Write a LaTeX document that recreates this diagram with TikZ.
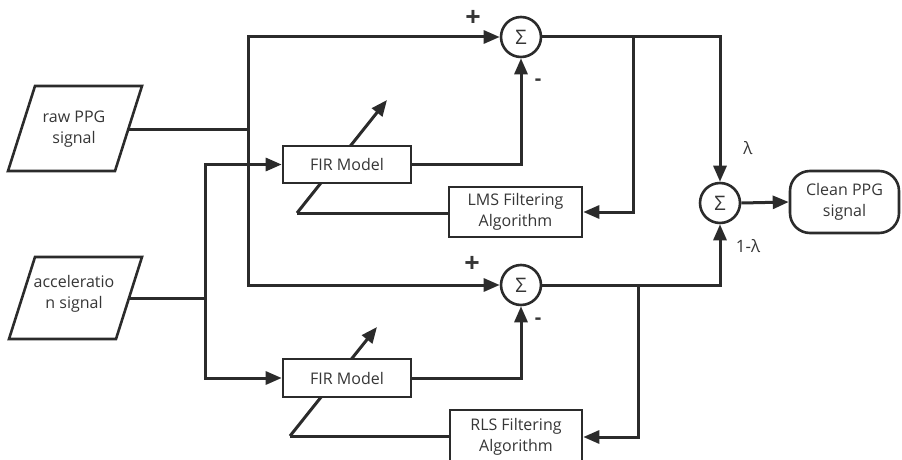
\documentclass[tikz,border=0pt]{standalone}
\usepackage{fontspec}
\setmainfont{Open Sans}
\usetikzlibrary{arrows.meta,backgrounds}
\definecolor{ink}{HTML}{2B2B2B}
\definecolor{txt}{HTML}{363636}
\tikzset{
  wire/.style={draw=ink, line width=3pt},
  arr/.style={wire, -{Triangle[length=16pt,width=13pt]}},
  block/.style={draw=ink, fill=white, line width=2.6pt, rectangle, inner sep=0pt, align=center,
    font=\fontsize{16}{21}\selectfont, text=txt},
  sumnode/.style={draw=ink, fill=white, line width=2.6pt, circle, minimum size=40pt, inner sep=0pt,
    font=\fontsize{20}{20}\selectfont, text=txt},
  lbl/.style={inner sep=0pt, align=center, font=\fontsize{16}{21}\selectfont, text=txt},
  sign/.style={inner sep=0pt, font=\fontsize{17}{20}\selectfont, text=txt},
  plus/.style={inner sep=0pt, font=\bfseries\fontsize{27}{27}\selectfont, text=txt},
  minus/.style={inner sep=0pt, font=\bfseries\fontsize{20}{20}\selectfont, text=txt},
}
\begin{document}
\begin{tikzpicture}[x=1pt,y=-1pt]
\useasboundingbox (0,0) rectangle (902,460);
\clip (0,0) rectangle (902,460);

% input parallelograms
\draw[ink, line width=2.6pt] (35,86) -- (142,86) -- (115,171) -- (8,171) -- cycle;
\node[lbl] (raw) at (74,129) {raw PPG\\signal};
\coordinate (rawout) at (128.5,129);
\draw[ink, line width=2.6pt] (35,257) -- (142,257) -- (116,339) -- (9,339) -- cycle;
\node[lbl] (acc) at (74,294) {acceleratio\\n signal};
\coordinate (accout) at (129,298);

% blocks
\node[block, minimum width=128pt, minimum height=37pt] (fir1) at (347,164.5) {FIR Model};
\node[block, minimum width=128pt, minimum height=38pt] (fir2) at (347,378) {FIR Model};
\node[block, minimum width=133pt, minimum height=50pt] (lms) at (515.5,212) {LMS Filtering\\Algorithm};
\node[block, minimum width=132pt, minimum height=54pt] (rls) at (516,437) {RLS Filtering\\Algorithm};
\node[draw=ink, line width=2.6pt, rounded corners=20pt, minimum width=109pt, minimum height=62pt,
  inner sep=0pt, align=center, font=\fontsize{16}{21}\selectfont, text=txt] (clean) at (844.5,202) {Clean PPG\\signal};

% summing junctions
\node[sumnode] (s1) at (521,37) {Σ};
\node[sumnode] (s2) at (521,285) {Σ};
\node[sumnode] (s3) at (720,203) {Σ};

% signs and weights
\node[plus] (p1) at (473,18) {+};
\node[minus] (m1) at (538,82) {-};
\node[plus] (p2) at (472,264) {+};
\node[minus] (m2) at (538,321) {-};
\node[sign] (lam) at (748,148) {λ};
\node[sign] (olam) at (748,246) {1-λ};

% junction points
\coordinate (jr) at (248,129);
\coordinate (jt) at (248,37);
\coordinate (jb) at (248,285);
\coordinate (ja) at (205,298);
\coordinate (ja1) at (205,164.5);
\coordinate (ja2) at (205,378);
\coordinate (b1) at (633,37);
\coordinate (b2) at (638,285);
\coordinate (t1) at (720,37);
\coordinate (t2) at (720,285);
\coordinate (f1) at (521,164.5);
\coordinate (f2) at (521,378);
\coordinate (w1s) at (297,213);
\coordinate (w1e) at (387,100);
\coordinate (w2s) at (290,436);
\coordinate (w2e) at (377,327);

% raw PPG path
\draw[wire] (rawout) -- (jr);
\draw[arr] (jb) -- (jt) -- (s1.west);
\draw[arr] (jt) -- (jb) -- (s2.west);

% acceleration path
\draw[wire] (accout) -- (ja);
\draw[arr] (ja) -- (ja1) -- (fir1.west);
\draw[arr] (ja) -- (ja2) -- (fir2.west);

% filter outputs
\draw[arr] (fir1.east) -- (f1) -- (s1.south);
\draw[arr] (fir2.east) -- (f2) -- (s2.south);

% error feedback
\draw[arr] (s1.east) -- (t1) -- (s3.north);
\draw[arr] (b1) |- (lms.east);
\draw[arr] (s2.east) -- (t2) -- (s3.south);
\draw[arr] (b2) |- (rls.east);

% adaptive weight arrows, passing behind the FIR blocks
\begin{scope}[on background layer]
\draw[wire] (lms.west |- w1s) -- (w1s);
\draw[arr] (w1s) -- (w1e);
\draw[wire] (rls.west |- w2s) -- (w2s);
\draw[arr] (w2s) -- (w2e);
\end{scope}

% output
\draw[arr] (s3.east) -- (clean.west);
\end{tikzpicture}
\end{document}
